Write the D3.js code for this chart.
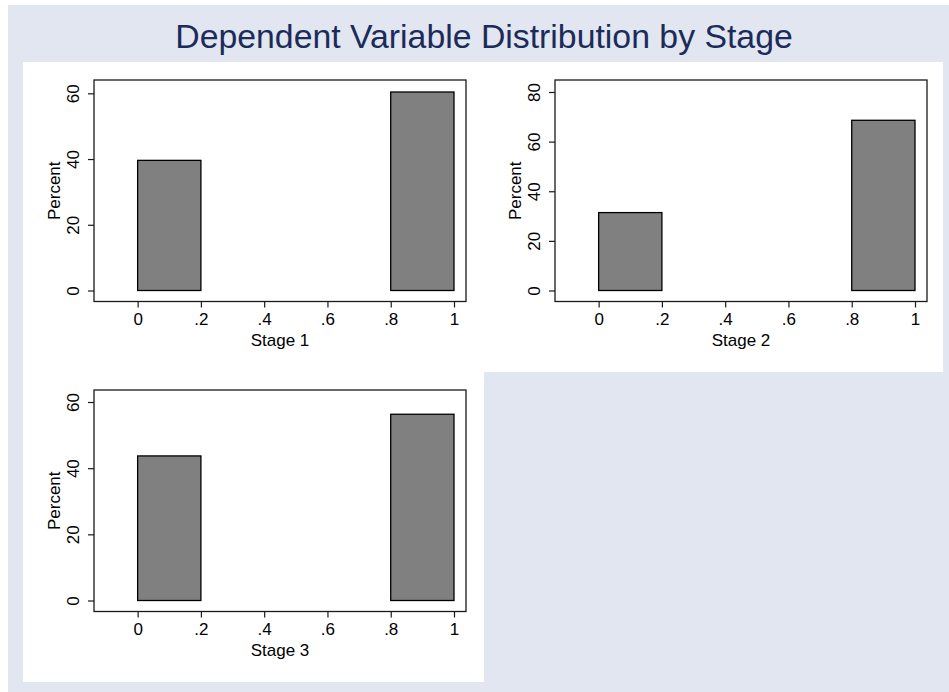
<!DOCTYPE html>
<html>
<head>
<meta charset="utf-8">
<script src="https://cdn.jsdelivr.net/npm/d3@7"></script>
<style>
  html, body { margin: 0; padding: 0; background: #ffffff; }
  svg { display: block; }
  text { font-family: "Liberation Sans", Arial, Helvetica, sans-serif; }
</style>
</head>
<body>
<div id="chart"></div>
<script>
// ---- data ----
const chartTitle = "Dependent Variable Distribution by Stage";
const stages = ["Stage 1", "Stage 2", "Stage 3"];
const binStarts = [0, 0.8];
const binWidth = 0.2;
const stage1Percent = [39.6, 60.4];
const stage2Percent = [31.4, 68.6];
const stage3Percent = [43.7, 56.3];
const xTicks = [0, 0.2, 0.4, 0.6, 0.8, 1];
const xTickLabels = ["0", ".2", ".4", ".6", ".8", "1"];
const xDomain = [-0.1, 1];
const stage1YTicks = [0, 20, 40, 60];
const stage2YTicks = [0, 20, 40, 60, 80];
const stage3YTicks = [0, 20, 40, 60];
const yAxisLabel = "Percent";

const seriesValues = [stage1Percent, stage2Percent, stage3Percent];
const seriesTicks = [stage1YTicks, stage2YTicks, stage3YTicks];

// ---- layout ----
const W = 949, H = 692;
const svg = d3.select("#chart").append("svg").attr("width", W).attr("height", H);

svg.append("rect").attr("x", 8).attr("y", 5).attr("width", W - 8).attr("height", H - 5)
  .attr("fill", "#e1e6f0");

const cells = [
  { x: 23, y: 62, w: 461, h: 310 },
  { x: 484, y: 62, w: 459, h: 310 },
  { x: 23, y: 372, w: 461, h: 310 }
];

svg.append("text")
  .attr("x", 484).attr("y", 48)
  .attr("text-anchor", "middle")
  .attr("font-size", 33.8)
  .attr("fill", "#1c2b5a")
  .text(chartTitle);

const frame = { left: 71, top: 18, width: 372, height: 221.5 };
const pad = { top: 12, bottom: 11, left: 12, right: 12 };
const fontSize = 17;

cells.forEach((c, i) => {
  const g = svg.append("g").attr("transform", `translate(${c.x},${c.y})`);
  g.append("rect").attr("x", 0).attr("y", 0).attr("width", c.w).attr("height", c.h)
    .attr("fill", "#ffffff");

  const p = g.append("g").attr("transform", `translate(${frame.left},${frame.top})`);
  const vals = seriesValues[i];
  const ticks = seriesTicks[i];
  const yMax = Math.max(d3.max(vals), d3.max(ticks));

  const x = d3.scaleLinear().domain(xDomain).range([pad.left, frame.width - pad.right]);
  const y = d3.scaleLinear().domain([0, yMax]).range([frame.height - pad.bottom, pad.top]);

  // bars
  p.selectAll("rect.bar").data(binStarts.map((b, k) => ({ x0: b, x1: b + binWidth, v: vals[k] })))
    .enter().append("rect")
    .attr("class", "bar")
    .attr("x", d => x(d.x0))
    .attr("width", d => x(d.x1) - x(d.x0))
    .attr("y", d => y(d.v))
    .attr("height", d => y(0) - y(d.v))
    .attr("fill", "#808080")
    .attr("stroke", "#000000")
    .attr("stroke-width", 1.3);

  // frame
  p.append("rect").attr("x", 0).attr("y", 0).attr("width", frame.width).attr("height", frame.height)
    .attr("fill", "none").attr("stroke", "#1a1a1a").attr("stroke-width", 1.3);

  // x axis
  const xAxis = d3.axisBottom(x).tickValues(xTicks)
    .tickFormat((d, k) => xTickLabels[k]).tickSize(6).tickPadding(4);
  const gx = p.append("g").attr("transform", `translate(0,${frame.height})`).call(xAxis);
  gx.select(".domain").remove();
  gx.selectAll(".tick line").attr("stroke", "#1a1a1a").attr("stroke-width", 1.2);
  gx.selectAll(".tick text").attr("font-size", fontSize).attr("fill", "#000")
    .attr("font-family", "Liberation Sans, Arial, sans-serif")
    .attr("dy", null).attr("y", 23).attr("dominant-baseline", null);

  // y axis
  const yAxis = d3.axisLeft(y).tickValues(ticks).tickSize(6).tickPadding(0);
  const gy = p.append("g").call(yAxis);
  gy.select(".domain").remove();
  gy.selectAll(".tick line").attr("stroke", "#1a1a1a").attr("stroke-width", 1.2);
  gy.selectAll(".tick text")
    .attr("font-size", fontSize).attr("fill", "#000")
    .attr("font-family", "Liberation Sans, Arial, sans-serif")
    .attr("x", null).attr("dy", null)
    .attr("text-anchor", "middle")
    .attr("transform", "translate(-15.5,0) rotate(-90)");

  // axis titles
  p.append("text")
    .attr("x", frame.width / 2).attr("y", frame.height + 44)
    .attr("text-anchor", "middle").attr("font-size", fontSize).attr("fill", "#000")
    .text(stages[i]);
  p.append("text")
    .attr("transform", `translate(-34,${frame.height / 2}) rotate(-90)`)
    .attr("text-anchor", "middle").attr("font-size", fontSize).attr("fill", "#000")
    .text(yAxisLabel);
});
</script>
</body>
</html>
